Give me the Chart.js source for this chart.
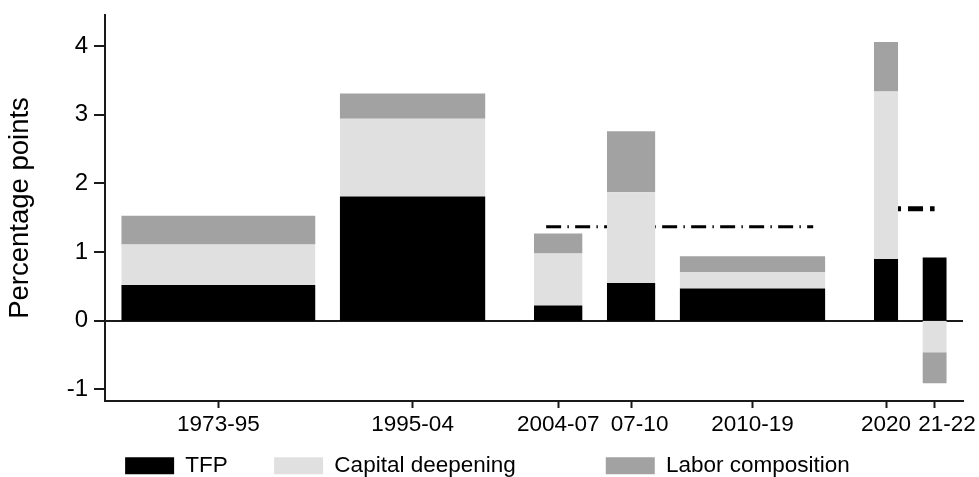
<!DOCTYPE html>
<html>
<head>
<meta charset="utf-8">
<script src="https://cdn.jsdelivr.net/npm/chart.js@4.4.1/dist/chart.umd.min.js"></script>
<style>
  html, body { margin: 0; padding: 0; background: #ffffff; }
  #wrap { width: 979px; height: 477px; }
</style>
</head>
<body>
<div id="wrap"><canvas id="c" width="979" height="477"></canvas></div>
<script>
// ---------------- DATA ----------------
const periods  = ['1973-95', '1995-04', '2004-07', '07-10', '2010-19', '2020', '21-22'];
// bar extents on the x scale (slot units)
const barStart = [0, 9, 17, 20, 23, 31, 33];
const barEnd   = [8, 15, 19, 22, 29, 32, 34];
const seriesNames = ['TFP', 'Capital deepening', 'Labor composition'];
const tfp      = [0.52, 1.81, 0.22, 0.55, 0.47, 0.90, 0.92];
const capital  = [0.59, 1.13, 0.76, 1.32, 0.24, 2.44, -0.46];
const labor    = [0.42, 0.37, 0.29, 0.89, 0.23, 0.72, -0.45];
// reference (average) lines
const refValue = [1.37, 1.63];
const refStart = [17.5, 31.5];
const refEnd   = [28.5, 33.5];
const yTicks   = [-1, 0, 1, 2, 3, 4];

// ---------------- STYLE ----------------
const FONT = "'Liberation Sans', Arial, Helvetica, sans-serif";
const colors = ['#000000', '#e0e0e0', '#a2a2a2'];
const axisColor = '#1a1a1a';
const refDash = [[15, 6.3, 1.4, 6.3], [15, 7]];
const refWidth = [3, 5];
// leading space used in the original to nudge crowded labels right
const labelLead = ['', '', '', '\u00a0\u00a0\u2009', '', '', '\u00a0\u00a0\u00a0\u00a0'];

// build stacked rectangles (positive and negative stacked separately)
const series = [tfp, capital, labor];
const datasets = [];
periods.forEach((p, i) => {
  let pos = 0, neg = 0;
  series.forEach((s, k) => {
    const v = s[i];
    let lo, hi;
    if (v >= 0) { lo = pos; hi = pos + v; pos = hi; }
    else { lo = neg; hi = neg + v; neg = hi; }
    datasets.push({
      label: seriesNames[k],
      data: [{ x: barStart[i], y: hi }, { x: barEnd[i], y: hi }],
      fill: { value: lo },
      backgroundColor: colors[k],
      borderColor: 'rgba(0,0,0,0)',
      borderWidth: 1,
      pointRadius: 0,
      tension: 0
    });
  });
});
refValue.forEach((v, j) => {
  datasets.push({
    label: 'ref' + j,
    data: [{ x: refStart[j], y: v }, { x: refEnd[j], y: v }],
    fill: false,
    borderColor: '#000000',
    borderWidth: refWidth[j],
    borderDash: refDash[j],
    borderCapStyle: 'butt',
    pointRadius: 0
  });
});

const xTickPos = periods.map((p, i) => (barStart[i] + barEnd[i]) / 2);

const legendShift = {
  id: 'legendShift',
  afterLayout(chart) {
    const L = chart.legend;
    const pad = L.options.labels.padding;
    L.top = 454.5 - pad;
    L.left += 6;
    L.right += 6;
  }
};

const noEdgePadding = s => { s.paddingTop = 0; s.paddingBottom = 0; s.paddingLeft = 0; s.paddingRight = 0; };

new Chart(document.getElementById('c'), {
  type: 'line',
  data: { datasets },
  plugins: [legendShift],
  options: {
    responsive: false,
    animation: false,
    events: [],
    layout: { padding: { left: 0, right: 16, top: 15, bottom: 0 } },
    plugins: {
      tooltip: { enabled: false },
      legend: {
        position: 'bottom',
        maxHeight: 36,
        labels: {
          boxWidth: 49,
          boxHeight: 17,
          padding: 46.25,
          color: '#000000',
          font: { family: FONT, size: 22.5 },
          generateLabels: () => seriesNames.map((n, k) => ({
            text: k === 1 ? n + '\u00a0'.repeat(7) : n,
            fillStyle: colors[k],
            strokeStyle: colors[k],
            lineWidth: 0,
            hidden: false,
            datasetIndex: k
          }))
        }
      }
    },
    scales: {
      x: {
        type: 'linear',
        min: -0.67,
        max: 34.67,
        afterBuildTicks: s => { s.ticks = xTickPos.map(v => ({ value: v })); },
        afterFit: s => { s.height = 40; noEdgePadding(s); },
        border: { display: true, color: axisColor, width: 2 },
        grid: { drawOnChartArea: false, tickColor: axisColor, tickLength: 7, tickWidth: 2 },
        ticks: {
          autoSkip: false, maxRotation: 0, minRotation: 0,
          padding: 3.5,
          color: '#000000',
          font: { family: FONT, size: 22.5 },
          callback: (v, i) => labelLead[i] + periods[i]
        }
      },
      y: {
        type: 'linear',
        min: -1.17,
        max: 4.453,
        afterBuildTicks: s => { s.ticks = yTicks.map(v => ({ value: v })); },
        afterFit: s => { s.width = 105; noEdgePadding(s); },
        border: { display: true, color: axisColor, width: 2 },
        grid: {
          drawOnChartArea: true,
          color: c => (c.tick && c.tick.value === 0) ? axisColor : 'rgba(0,0,0,0)',
          lineWidth: 2,
          tickColor: axisColor,
          tickLength: 11,
          tickWidth: 2
        },
        ticks: {
          padding: 6,
          color: '#000000',
          font: { family: FONT, size: 24 },
          callback: v => String(v)
        },
        title: {
          display: true,
          text: 'Percentage points',
          color: '#000000',
          font: { family: FONT, size: 27.5 },
          padding: { top: 4, bottom: 0 }
        }
      }
    }
  }
});
</script>
</body>
</html>
